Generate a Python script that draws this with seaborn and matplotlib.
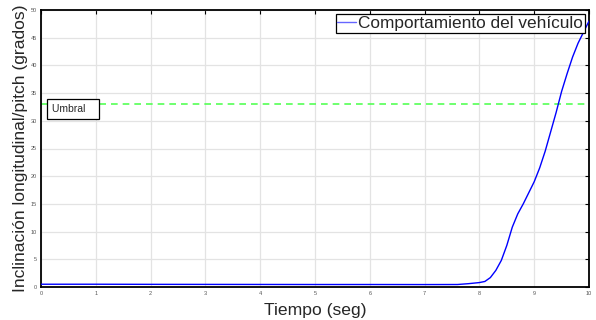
import matplotlib
matplotlib.use("Agg")
import matplotlib.pyplot as plt
import seaborn as sns
import numpy as np
import pandas as pd

# Data
tiempo = [0.0, 1.0, 2.0, 3.0, 4.0, 5.0, 6.0, 7.0, 7.6, 7.8, 8.0, 8.1, 8.2, 8.3, 8.4,
          8.5, 8.6, 8.7, 8.8, 8.9, 9.0, 9.1, 9.2, 9.3, 9.4, 9.5, 9.6, 9.7, 9.8, 9.9, 10.0]
pitch = [0.5, 0.5, 0.48, 0.47, 0.46, 0.45, 0.45, 0.44, 0.45, 0.6, 0.8, 1.0, 1.7, 3.0, 4.8,
         7.5, 10.8, 13.2, 15.0, 17.0, 19.0, 21.5, 24.5, 28.0, 31.5, 35.3, 38.5, 41.5, 44.0, 46.0, 48.0]
umbral_t = [0.0, 10.0]
umbral_v = [33.0, 33.0]
serie_label = "Comportamiento del vehículo"
umbral_label = "Umbral"
xlabel = "Tiempo (seg)"
ylabel = "Inclinación longitudinal/pitch (grados)"
xticks = list(range(0, 11))
yticks = list(range(0, 51, 5))

df = pd.DataFrame({"t": tiempo, "p": pitch})
df_u = pd.DataFrame({"t": umbral_t, "p": umbral_v})

sns.set_style("whitegrid")
plt.rcParams['font.family'] = ['Liberation Sans', 'DejaVu Sans']

fig = plt.figure(figsize=(5.96, 3.2), dpi=100)
ax = fig.add_axes([41/596, 33/320, 548/596, 277/320])

sns.lineplot(data=df_u, x="t", y="p", ax=ax, color="#55ff55", linestyle=(0, (4, 3)),
             linewidth=1.2, label="_nolegend_", zorder=2)
sns.lineplot(data=df, x="t", y="p", ax=ax, color="#0000ff", linewidth=1.0,
             label=serie_label, zorder=3)

ax.set_xlim(0, 10)
ax.set_ylim(0, 50)
ax.set_xticks(xticks)
ax.set_yticks(yticks)
ax.grid(True, color="#e3e3e3", linewidth=0.9)
for s in ax.spines.values():
    s.set_visible(True)
    s.set_color("black")
    s.set_linewidth(1.3)
ax.tick_params(direction="in", length=3, width=0.8, colors="black",
               top=True, right=True, labelsize=4, labelcolor="#555555", pad=3)

ax.set_xlabel(xlabel, fontsize=12.6, labelpad=5)
ax.set_ylabel(ylabel, fontsize=12.6, labelpad=1.5)

ax.text(0.2, 32.1, umbral_label + "   ", fontsize=7.5, ha="left", va="center", zorder=5,
        bbox=dict(boxstyle="square,pad=0.45", fc="white", ec="black", lw=0.9))

leg = ax.legend(loc="upper right", fontsize=12.4, handlelength=1.1, handletextpad=0.1,
                borderpad=0.1, borderaxespad=0.25, frameon=True, fancybox=False)
leg.get_frame().set_edgecolor("black")
leg.get_frame().set_linewidth(0.9)
leg.get_frame().set_alpha(1)
for line in leg.get_lines():
    line.set_color("#6666ff")

fig.savefig("out.png", dpi=100)
